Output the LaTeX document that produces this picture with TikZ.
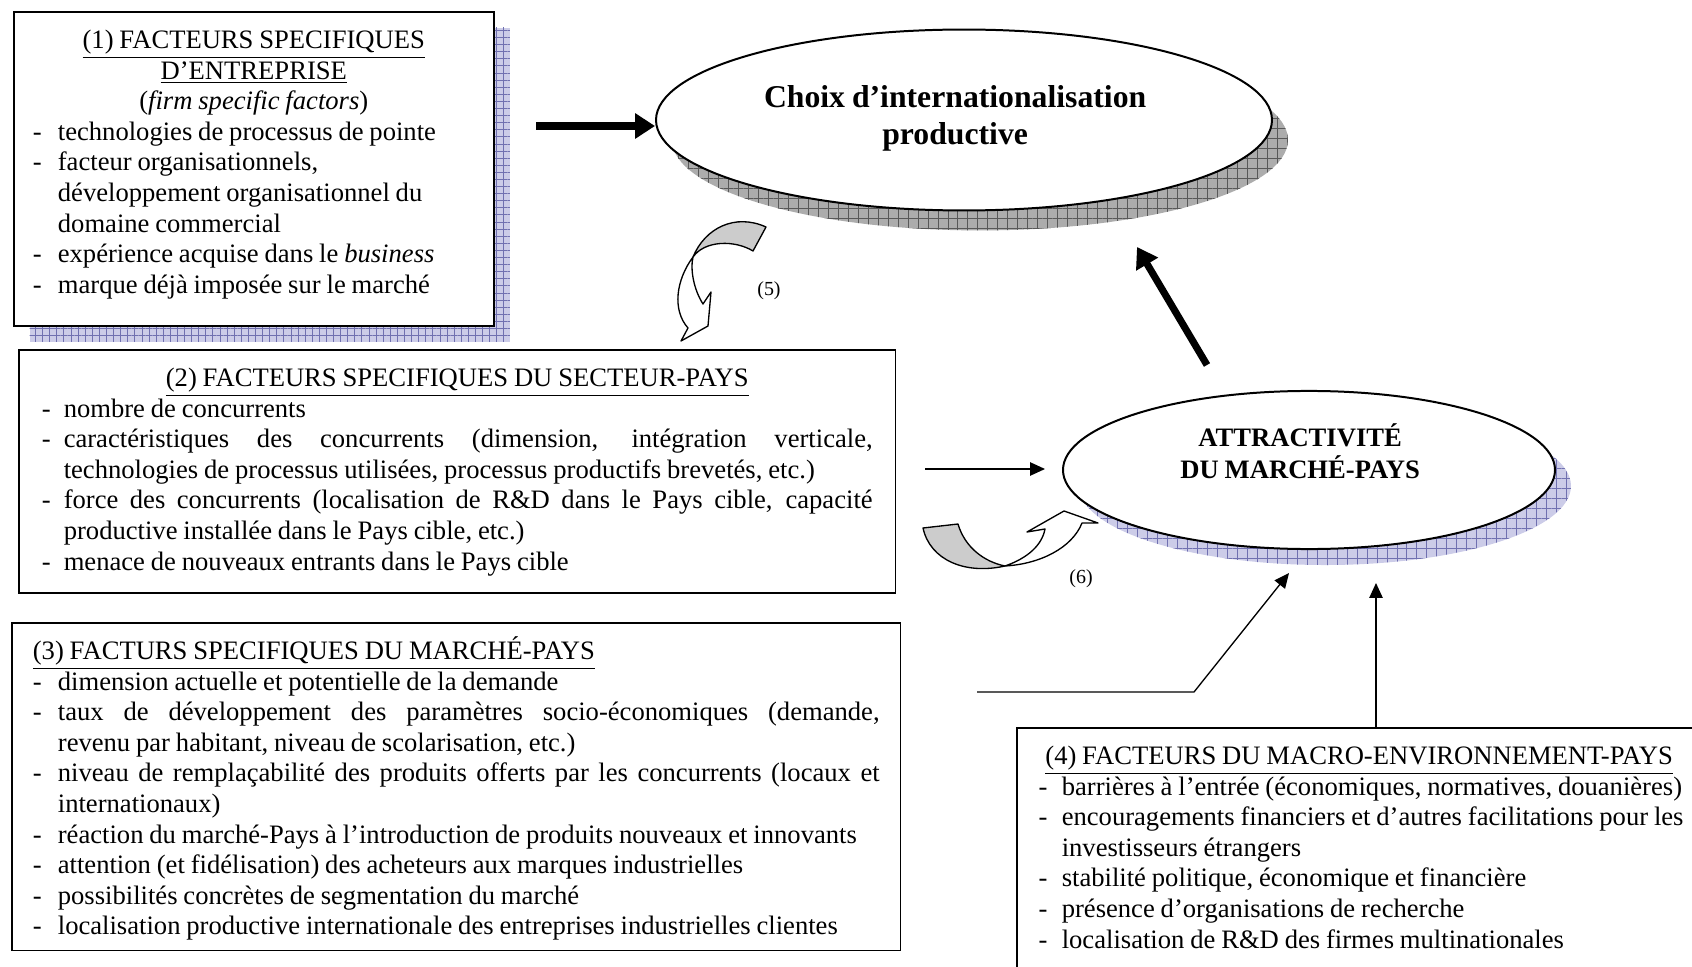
\documentclass[tikz,border=0pt]{standalone}
\usepackage{fontspec}
\setmainfont{Liberation Serif}[WordSpace=0.88]
\usepackage{tikz}
\usetikzlibrary{shapes.geometric, arrows.meta, positioning, shadows, patterns.meta}
\definecolor{lavande}{RGB}{204,204,232}
\definecolor{lavandegrid}{RGB}{112,112,176}
\definecolor{ombre}{RGB}{172,172,172}
\definecolor{ombregrid}{RGB}{88,88,88}
\definecolor{rubangris}{RGB}{204,204,204}
\newcommand{\tiret}[2][11.3pt]{\par\noindent\hangindent=#1\hangafter=1\makebox[#1][l]{-}#2}
\tikzset{
    facteur/.style={rectangle, draw=black, line width=0.7pt, fill=white, anchor=north west, align=justify, inner ysep=7.6pt, text height=9pt},
    objectif/.style={ellipse, draw=black, line width=0.9pt, fill=white, inner sep=0pt},
    gridshadow/.style n args={5}{general shadow={fill=#1, shadow xshift=#3, shadow yshift=#4},
        general shadow={pattern={Lines[distance=#5, angle=0, line width=0.35pt]}, pattern color=#2, shadow xshift=#3, shadow yshift=#4},
        general shadow={pattern={Lines[distance=#5, angle=90, line width=0.35pt]}, pattern color=#2, shadow xshift=#3, shadow yshift=#4}},
    ruban/.style={draw=black, line width=0.6pt, line join=round, fill=rubangris},
    rubanfleche/.style={draw=black, line width=0.6pt, line join=round, fill=white},
    numero/.style={font=\fontsize{9}{10}\selectfont, inner sep=0pt},
    grosse/.style={line width=3.2pt, -{Triangle[length=9pt, width=11pt]}},
    arrow/.style={line width=0.6pt, -{Triangle[length=6.7pt, width=6pt]}}
}

\begin{document}
\begin{tikzpicture}[x=0.451pt, y=-0.451pt, font=\fontsize{12}{13.8}\selectfont]
    \clip (0,0) rectangle (1692,967);

    \node (choix) [objectif, gridshadow={ombre}{ombregrid}{7.2pt}{-9pt}{4.5pt}, minimum width=277.8pt, minimum height=81.6pt,
        font=\bfseries\fontsize{14.3}{17}\selectfont, text height=10pt, text depth=21.7pt] at (964,120)
        {\begin{tabular}[t]{@{}c@{}}Choix d’internationalisation\\ productive\end{tabular}\hspace*{8pt}};
    \node (attract) [objectif, gridshadow={lavande}{lavandegrid}{7.2pt}{-7.2pt}{4.5pt}, minimum width=221.9pt, minimum height=71.3pt,
        font=\bfseries\fontsize{12}{13.8}\selectfont, text height=9pt, text depth=30.6pt] at (1309,470)
        {\begin{tabular}[t]{@{}c@{}}ATTRACTIVITÉ\\ DU MARCHÉ-PAYS\end{tabular}\hspace*{8pt}};

    \node (firm) [facteur, gridshadow={lavande}{lavandegrid}{7.2pt}{-7.2pt}{3.2pt}, inner xsep=8.6pt, text width=199.3pt, text depth=117.4pt] at (13,11) {%
        {\centering \underline{(1) FACTEURS SPECIFIQUES}\\ \underline{D’ENTREPRISE}\\ (\textit{firm specific factors})\par}
        \tiret{technologies de processus de pointe}
        \tiret{facteur organisationnels,\newline développement organisationnel du\newline domaine commercial}
        \tiret{expérience acquise dans le \textit{business}}
        \tiret{marque déjà imposée sur le marché}};
    \node (secteur) [facteur, inner xsep=10.4pt, text width=374.7pt, text depth=85.4pt] at (18,349) {%
        {\centering \underline{(2) FACTEURS SPECIFIQUES DU SECTEUR-PAYS}\par}
        \tiret[9.9pt]{nombre de concurrents}
        \tiret[9.9pt]{caractéristiques des concurrents (dimension, intégration verticale,\linebreak technologies de processus utilisées, processus productifs brevetés, etc.)}
        \tiret[9.9pt]{force des concurrents (localisation de R\&D dans le Pays cible, capacité\linebreak productive installée dans le Pays cible, etc.)}
        \tiret[9.9pt]{menace de nouveaux entrants dans le Pays cible}};
    \node (marche) [facteur, inner xsep=9.5pt, text width=381.9pt, text depth=123.7pt] at (11,622) {%
        \noindent\underline{(3) FACTURS SPECIFIQUES DU MARCHÉ-PAYS}
        \tiret{dimension actuelle et potentielle de la demande}
        \tiret{taux de développement des paramètres socio-économiques (demande,\linebreak revenu par habitant, niveau de scolarisation, etc.)}
        \tiret{niveau de remplaçabilité des produits offerts par les concurrents (locaux et\linebreak internationaux)}
        \tiret{réaction du marché-Pays à l’introduction de produits nouveaux et innovants}
        \tiret{attention (et fidélisation) des acheteurs aux marques industrielles}
        \tiret{possibilités concrètes de segmentation du marché}
        \tiret{localisation productive internationale des entreprises industrielles clientes}};
    \node (macro) [facteur, inner xsep=9.9pt, text width=320pt, text depth=160pt] at (1016,727) {%
        \noindent\hspace*{3pt}\underline{(4) FACTEURS DU MACRO-ENVIRONNEMENT-PAYS}
        \tiret[10.4pt]{barrières à l’entrée (économiques, normatives, douanières)}
        \tiret[10.4pt]{encouragements financiers et d’autres facilitations pour les\newline investisseurs étrangers}
        \tiret[10.4pt]{stabilité politique, économique et financière}
        \tiret[10.4pt]{présence d’organisations de recherche}
        \tiret[10.4pt]{localisation de R\&D des firmes multinationales}};

    \coordinate (q1) at (536,126);
    \coordinate (q2) at (1207,365);
    \coordinate (p2) at (1137,247);
    \coordinate (q3) at (925,469);
    \coordinate (p3) at (1045,469);
    \coordinate (q4) at (977,692);
    \coordinate (c4) at (1194,692);
    \coordinate (p4) at (1289,573);
    \coordinate (p5) at (1376,583);

    \draw [grosse] (q1) -- (choix.west |- q1);
    \draw [grosse] (q2) -- (p2);
    \draw [arrow] (q3) -- (p3);
    \draw [arrow] (q4) -- (c4) -- (p4);
    \draw [arrow] (macro.north -| p5) -- (p5);

    \draw [ruban] (766,227) .. controls (735,213) and (705,228) .. (693,257) .. controls (705,240) and (735,240) .. (753,251) -- cycle;
    \draw [rubanfleche] (693,257) .. controls (676,280) and (672,310) .. (688,328) -- (681,341) -- (708,326) -- (711,292) -- (703,304) .. controls (694,290) and (690,270) .. (693,257) -- cycle;
    \node (n5) [numero] at (769,291) {(5)};

    \draw [ruban] (923,528) -- (958,524) .. controls (965,548) and (985,562) .. (1005,566) .. controls (965,575) and (930,560) .. (923,528) -- cycle;
    \draw [rubanfleche] (1005,566) .. controls (1040,564) and (1072,548) .. (1082,523) -- (1098,523) -- (1064,511) -- (1027,532) -- (1045,529) .. controls (1042,545) and (1028,558) .. (1005,566) -- cycle;
    \node (n6) [numero] at (1081,579) {(6)};
\end{tikzpicture}
\end{document}
